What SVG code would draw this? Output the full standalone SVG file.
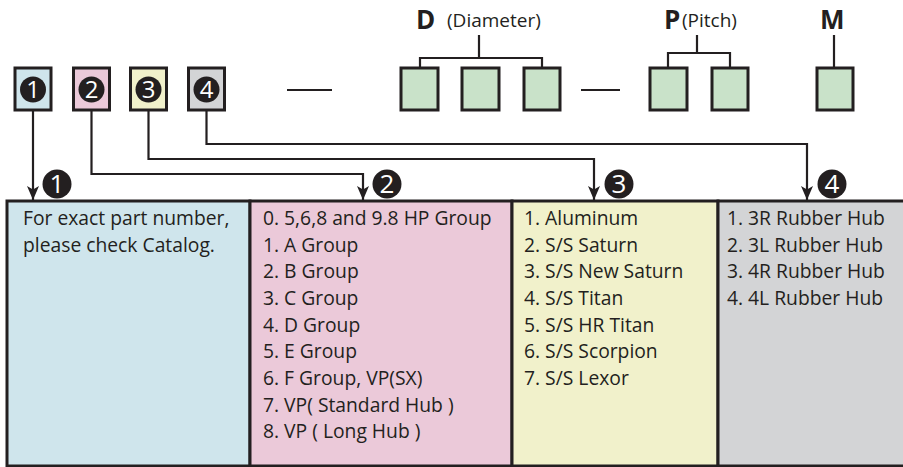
<svg xmlns="http://www.w3.org/2000/svg" width="903" height="467" viewBox="0 0 903 467">
<defs>
<style>
.bx{stroke:#231f20;stroke-width:3}
.b1{fill:#cfe5ec}.b2{fill:#ebc9d9}.b3{fill:#f1f1cb}.b4{fill:#d3d4d6}.g{fill:#c9e2c9}
.ln{fill:none;stroke:#231f20;stroke-width:2.2}
.txt{font-family:"Open Sans","Noto Sans",sans-serif;font-size:19.3px;fill:#231f20}
.lab{font-family:"Open Sans","Noto Sans",sans-serif;font-size:19px;fill:#231f20}
.big{font-family:"Open Sans","Noto Sans",sans-serif;font-size:26px;font-weight:bold;fill:#231f20}
.num{font-family:"Open Sans","Noto Sans",sans-serif;font-size:24px;fill:#fff;text-anchor:middle}
.num2{font-family:"Open Sans","Noto Sans",sans-serif;font-size:26px;fill:#fff;text-anchor:middle}
.dot{fill:#231f20}
</style>
<marker id="ah" viewBox="0 0 14 12" refX="14" refY="6" markerWidth="14" markerHeight="12" markerUnits="userSpaceOnUse" orient="auto">
<path d="M0,0 L14,6 L0,12 L3.5,6 z" fill="#231f20"/>
</marker>
</defs>

<g id="code-1"><rect class="bx b1" x="15" y="68" width="36" height="42"/><circle class="dot" cx="33" cy="89.5" r="13"/><text class="num" x="33" y="98">1</text></g>
<g id="code-2"><rect class="bx b2" x="73.5" y="68" width="36" height="42"/><circle class="dot" cx="91.5" cy="89.5" r="13"/><text class="num" x="91.5" y="98">2</text></g>
<g id="code-3"><rect class="bx b3" x="130.5" y="68" width="36" height="42"/><circle class="dot" cx="148.5" cy="89.5" r="13"/><text class="num" x="148.5" y="98">3</text></g>
<g id="code-4"><rect class="bx b4" x="188.5" y="68" width="36" height="42"/><circle class="dot" cx="206.5" cy="89.5" r="13"/><text class="num" x="206.5" y="98">4</text></g>

<g id="dash-1"><path class="ln" d="M287,90 H332"/></g>
<g id="diameter">
<text class="big" x="416" y="29">D</text>
<text class="lab" x="447" y="27">(Diameter)</text>
<path class="ln" d="M479,35 V58 M420,68 V58 H542 V68"/>
<rect class="bx g" x="401" y="68" width="37" height="42"/>
<rect class="bx g" x="462" y="68" width="37" height="42"/>
<rect class="bx g" x="524" y="68" width="36" height="42"/>
</g>
<g id="dash-2"><path class="ln" d="M581,90 H620"/></g>
<g id="pitch">
<text class="big" x="664" y="29">P</text>
<text class="lab" x="682" y="27">(Pitch)</text>
<path class="ln" d="M697,35 V53 M668,68 V53 H730 V68"/>
<rect class="bx g" x="650" y="68" width="37" height="42"/>
<rect class="bx g" x="712" y="68" width="36" height="42"/>
</g>
<g id="m">
<text class="big" x="820" y="29">M</text>
<path class="ln" d="M834,35 V68"/>
<rect class="bx g" x="817" y="68" width="36" height="42"/>
</g>

<g id="connectors">
<path class="ln" d="M33,110 V200" marker-end="url(#ah)"/>
<path class="ln" d="M91.5,110 V174 H363 V200" marker-end="url(#ah)"/>
<path class="ln" d="M148.5,110 V159 H594 V200" marker-end="url(#ah)"/>
<path class="ln" d="M206.5,110 V144 H807 V200" marker-end="url(#ah)"/>
</g>

<g id="marker-1"><circle class="dot" cx="57" cy="184" r="14.5"/><text class="num2" x="57" y="193">1</text></g>
<g id="marker-2"><circle class="dot" cx="387" cy="184" r="14.5"/><text class="num2" x="387" y="193">2</text></g>
<g id="marker-3"><circle class="dot" cx="619" cy="184" r="14.5"/><text class="num2" x="619" y="193">3</text></g>
<g id="marker-4"><circle class="dot" cx="832" cy="184" r="14.5"/><text class="num2" x="832" y="193">4</text></g>

<g id="col-1">
<rect class="bx b1" x="7" y="201" width="243" height="265" stroke-width="2.5"/>
<text class="txt" x="23" y="225">For exact part number,</text>
<text class="txt" x="23" y="252">please check Catalog.</text>
</g>
<g id="col-2">
<rect class="bx b2" x="250" y="201" width="262" height="265" stroke-width="2.5"/>
<text class="txt" x="263" y="225">0. 5,6,8 and 9.8 HP Group</text>
<text class="txt" x="263" y="252">1. A Group</text>
<text class="txt" x="263" y="278">2. B Group</text>
<text class="txt" x="263" y="305">3. C Group</text>
<text class="txt" x="263" y="332">4. D Group</text>
<text class="txt" x="263" y="358">5. E Group</text>
<text class="txt" x="263" y="385">6. F Group, VP(SX)</text>
<text class="txt" x="263" y="412">7. VP( Standard Hub )</text>
<text class="txt" x="263" y="438">8. VP ( Long Hub )</text>
</g>
<g id="col-3">
<rect class="bx b3" x="512" y="201" width="206" height="265" stroke-width="2.5"/>
<text class="txt" x="524" y="225">1. Aluminum</text>
<text class="txt" x="524" y="252">2. S/S Saturn</text>
<text class="txt" x="524" y="278">3. S/S New Saturn</text>
<text class="txt" x="524" y="305">4. S/S Titan</text>
<text class="txt" x="524" y="332">5. S/S HR Titan</text>
<text class="txt" x="524" y="358">6. S/S Scorpion</text>
<text class="txt" x="524" y="385">7. S/S Lexor</text>
</g>
<g id="col-4">
<rect class="bx b4" x="718" y="201" width="190" height="265" stroke-width="2.5"/>
<text class="txt" x="727" y="225">1. 3R Rubber Hub</text>
<text class="txt" x="727" y="252">2. 3L Rubber Hub</text>
<text class="txt" x="727" y="278">3. 4R Rubber Hub</text>
<text class="txt" x="727" y="305">4. 4L Rubber Hub</text>
</g>
</svg>
